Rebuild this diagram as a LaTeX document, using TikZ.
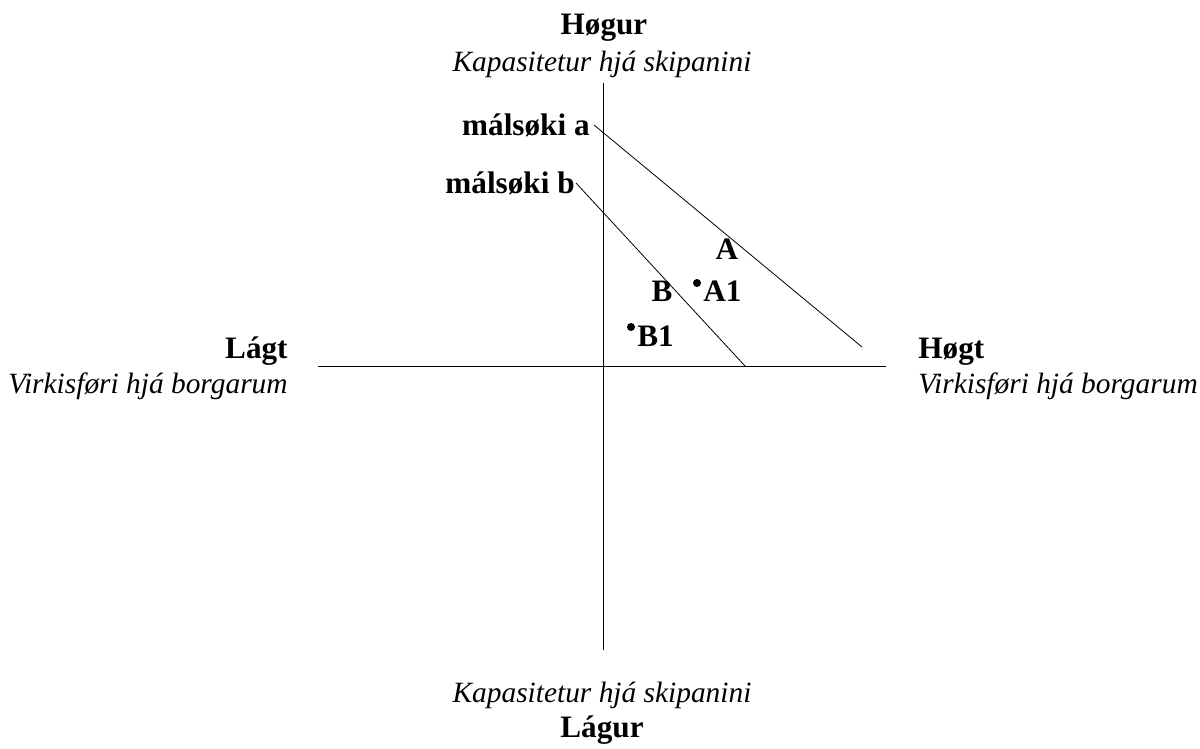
\documentclass[tikz,border=0pt]{standalone}
\usepackage{fontspec}
\setmainfont{Liberation Serif}
\usetikzlibrary{positioning}

\begin{document}
\begin{tikzpicture}[x=.5pt,y=-.5pt,font=\fontsize{14.7}{17}\selectfont,
  hd/.style={font=\fontsize{15.6}{18}\selectfont\bfseries,inner sep=0pt},
  sub/.style={font=\fontsize{14.7}{17}\selectfont\itshape,inner sep=0pt},
  dot/.style={circle,fill,inner sep=0pt,minimum size=4pt}]
\useasboundingbox (0,0) rectangle (1200,749);
% axes
\coordinate (top) at (603,83); \coordinate (bot) at (603,650);
\coordinate (lft) at (318,366); \coordinate (rgt) at (886,366);
\draw (top)--(bot);
\draw (lft)--(rgt);
% axis labels
\node[hd,anchor=base] (hogur) at (604,35) {Høgur};
\node[sub,anchor=base] (kaptop) at (602,72) {Kapasitetur hjá skipanini};
\node[sub,anchor=base] (kapbot) at (602,702) {Kapasitetur hjá skipanini};
\node[hd,anchor=base] (lagur) at (602,737) {Lágur};
\node[hd,anchor=base east] (lagt) at (288,358) {Lágt};
\node[sub,anchor=base east] (virkl) at (288,393) {Virkisføri hjá borgarum};
\node[hd,anchor=base west] (hogt) at (918,358) {Høgt};
\node[sub,anchor=base west] (virkr) at (918,393) {Virkisføri hjá borgarum};
% markets
\node[hd,anchor=east,inner sep=2pt] (msa) at (594,125) {málsøki a};
\node[hd,anchor=east,inner sep=.5pt] (msb) at (576,183) {málsøki b};
\coordinate (aend) at (862,347);
\coordinate (bend) at (745,366);
\draw[thin] (msa.east)--(aend);
\draw[thin] (msb.east)--(bend);
\node[hd,anchor=base] (la) at (727,259) {A};
\node[hd,anchor=base] (lb) at (662,301) {B};
% points
\node[dot] (pa) at (697,283) {};
\node[dot] (pb) at (631,327) {};
\node[hd,anchor=base west] (la1) at (703,301) {A1};
\node[hd,anchor=base west] (lb1) at (637,346) {B1};
\end{tikzpicture}
\end{document}
